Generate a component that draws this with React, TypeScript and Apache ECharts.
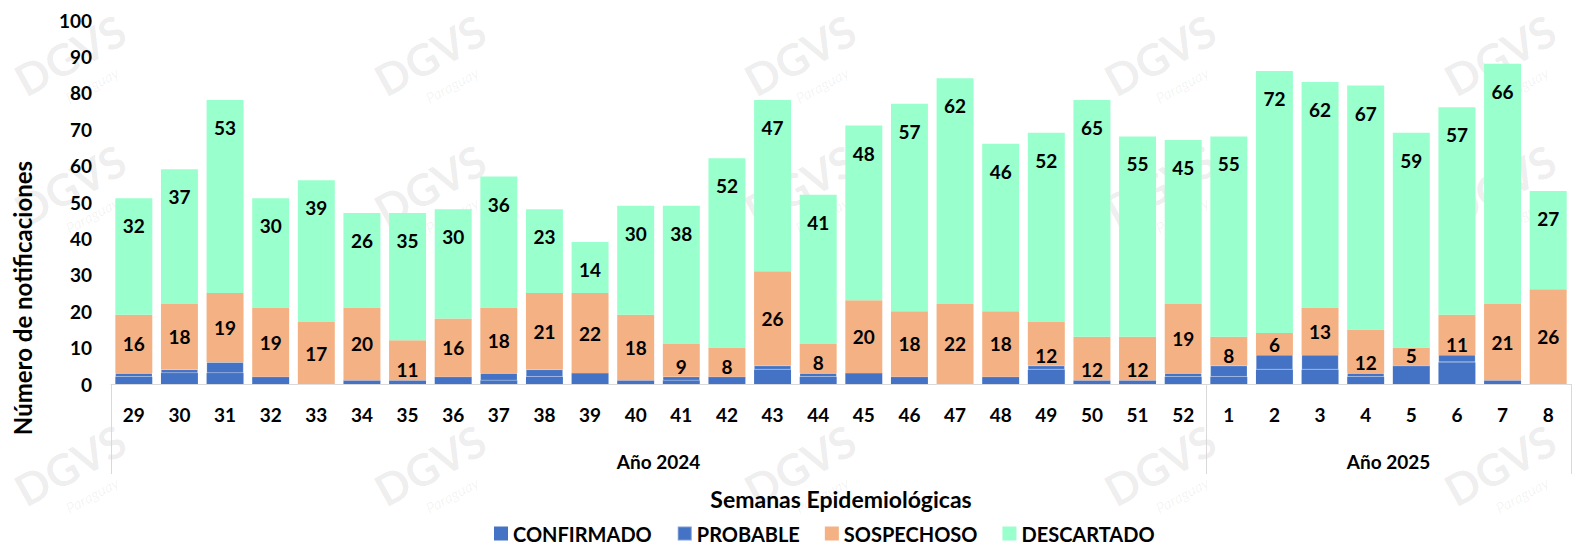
import React, { useEffect, useRef } from "react";
import * as echarts from "echarts";

const weeks = ["29","30","31","32","33","34","35","36","37","38","39","40","41","42","43","44","45","46","47","48","49","50","51","52","1","2","3","4","5","6","7","8"];
const yearLabels = ["Año 2024", "Año 2025"];
const yTicks = [0, 10, 20, 30, 40, 50, 60, 70, 80, 90, 100];
const confirmado = [2,3,3,2,0,1,1,2,1,2,3,1,1,2,4,2,3,2,0,2,4,1,1,2,2,4,4,2,5,6,1,0];
const probable = [1,1,3,0,0,0,0,0,2,2,0,0,1,0,1,1,0,0,0,0,1,0,0,1,3,4,4,1,0,2,0,0];
const sospechoso = [16,18,19,19,17,20,11,16,18,21,22,18,9,8,26,8,20,18,22,18,12,12,12,19,8,6,13,12,5,11,21,26];
const descartado = [32,37,53,30,39,26,35,30,36,23,14,30,38,52,47,41,48,57,62,46,52,65,55,45,55,72,62,67,59,57,66,27];

const FONT = "Lato";

export default function App() {
  const ref = useRef<HTMLDivElement>(null);
  useEffect(() => {
    document.body.style.margin = "0";
    const chart = echarts.init(ref.current!, null, { renderer: "svg" });
    const labelBase = { show: true, color: "#000", fontFamily: FONT, fontWeight: "bold", fontSize: 19 };
    const wm: any[] = [];
    const cols = [70, 430, 800, 1160, 1500];
    const rows = [55, 185, 465];
    rows.forEach((ry) => {
      cols.forEach((cx) => {
        wm.push({
          type: "text", x: cx, y: ry, rotation: 0.5, z: -10, silent: true,
          style: { text: "DGVS", fill: "rgba(0,0,0,0.07)", font: "bold 44px " + FONT, align: "center", verticalAlign: "middle" },
        });
        wm.push({
          type: "text", x: cx + 22, y: ry + 30, rotation: 0.5, z: -10, silent: true,
          style: { text: "Paraguay", fill: "rgba(0,0,0,0.06)", font: "italic 15px " + FONT, align: "center", verticalAlign: "middle" },
        });
      });
    });
    const option: any = {
      animation: false,
      backgroundColor: "#fff",
      textStyle: { fontFamily: FONT },
      grid: { left: 111, right: 4, top: 20, bottom: 162, containLabel: false },
      legend: {
        left: 494, top: 523, padding: 0, icon: "rect", itemWidth: 14, itemHeight: 14, itemGap: 25,
        textStyle: { fontFamily: FONT, fontWeight: "bold", fontSize: 20, lineHeight: 21, color: "#000" },
        data: ["CONFIRMADO", "PROBABLE", "SOSPECHOSO", "DESCARTADO"],
      },
      xAxis: [
        {
          type: "category", data: weeks, position: "bottom",
          axisLine: { show: true, lineStyle: { color: "#d9d9d9" } },
          axisTick: { show: true, interval: (i: number) => i === 0 || i === 24, length: 90, lineStyle: { color: "#d9d9d9" } },
          axisLabel: { color: "#000", fontFamily: FONT, fontWeight: "bold", fontSize: 19, margin: 21, interval: 0 },
          name: "Semanas Epidemiológicas", nameLocation: "middle", nameGap: 103,
          nameTextStyle: { color: "#000", fontFamily: FONT, fontWeight: "bold", fontSize: 23 },
        },
        {
          type: "value", min: 0, max: 32, interval: 4, position: "bottom",
          axisLine: { show: false }, axisTick: { show: false }, splitLine: { show: false },
          axisLabel: {
            color: "#000", fontFamily: FONT, fontWeight: "bold", fontSize: 19, margin: 68,
            formatter: (v: number) => (v === 12 ? yearLabels[0] : v === 28 ? yearLabels[1] : ""),
          },
        },
      ],
      yAxis: {
        type: "value", min: yTicks[0], max: yTicks[yTicks.length - 1], interval: 10,
        axisLine: { show: false }, axisTick: { show: false }, splitLine: { show: false },
        axisLabel: { color: "#000", fontFamily: FONT, fontWeight: "bold", fontSize: 19, margin: 19 },
      },
      graphic: [
        { type: "group", z: -10, silent: true, children: wm },
        {
          type: "text", x: 22, y: 298, rotation: Math.PI / 2, z: 10,
          style: { text: "Número de notificaciones", fill: "#000", font: "bold 24px " + FONT, align: "center", verticalAlign: "middle" },
        },
      ],
      series: [
        { name: "CONFIRMADO", type: "bar", stack: "t", data: confirmado, barCategoryGap: "19%", itemStyle: { color: "#4472C4" } },
        { name: "PROBABLE", type: "bar", stack: "t", data: probable, itemStyle: { color: "#4472C4", borderColor: "rgba(255,255,255,0.3)", borderWidth: 0.6 } },
        {
          name: "SOSPECHOSO", type: "bar", stack: "t", itemStyle: { color: "#F4B183" },
          label: { ...labelBase, position: "inside" },
          data: sospechoso.map((v) => (v <= 12 ? { value: v, label: { position: "insideBottom", distance: 1 } } : v)),
        },
        {
          name: "DESCARTADO", type: "bar", stack: "t", itemStyle: { color: "#99FFCC" },
          label: { ...labelBase, position: "insideTop", distance: 18 },
          data: descartado,
        },
      ],
    };
    chart.setOption(option);
    return () => chart.dispose();
  }, []);
  return <div ref={ref} style={{ width: 1575, height: 546 }} />;
}
